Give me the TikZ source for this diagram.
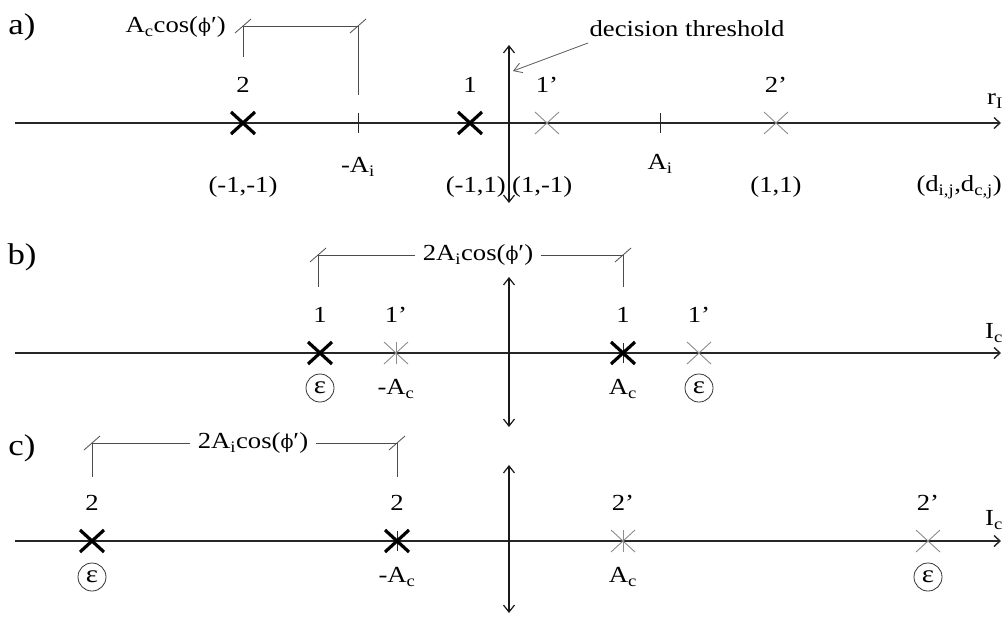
\documentclass[tikz,border=0pt]{standalone}
\usepackage{fontspec}
\setmainfont{Liberation Serif}[FakeStretch=1.16]
\newfontfamily\phifont{DejaVu Serif}
\usetikzlibrary{arrows.meta}
\newcommand{\sbs}[1]{\textsubscript{#1}}
\newcommand{\phip}{{\phifont\fontsize{19}{22}\selectfont ϕ}′}
\begin{document}
\begin{tikzpicture}[x=1pt,y=-1pt,
  every node/.style={font=\fontsize{23}{27}\selectfont, inner sep=0pt, text=black},
  panel/.style={font=\fontsize{30}{34}\selectfont},
  axis/.style={line width=1.4pt, draw=black!85, -{Straight Barb[length=6pt,width=11pt]}},
  vaxis/.style={line width=1.2pt, draw=black!90, {Straight Barb[length=7pt,width=11pt]}-{Straight Barb[length=7pt,width=11pt]}},
  brack/.style={line width=0.9pt, draw=black!70},
  thr/.style={line width=0.8pt, draw=black!65, -{Straight Barb[length=8pt,width=10pt]}},
  eps/.style={draw=black!80, line width=0.8pt, circle, minimum size=28pt, inner sep=0pt, font=\fontsize{25}{28}\selectfont},
  gap/.style={inner xsep=8pt},
  boldx/.pic={\draw[line width=3.2pt, black] (-12,-11)--(12,11) (-12,11)--(12,-11);},
  grayx/.pic={\draw[line width=0.9pt, black!45] (-12,-11)--(12,11) (-12,11)--(12,-11);},
  tickv/.pic={\draw[line width=1pt, black!85] (0,-10)--(0,10);},
  graytick/.pic={\draw[line width=0.9pt, black!45] (0,-11)--(0,11);},
  slash/.pic={\draw[line width=0.8pt, black!70] (-8,7)--(8,-7);}
]
\useasboundingbox (0,0) rectangle (1003,616);

% ================= panel a =================
\node[panel] (la) at (22,27) {a)};
\coordinate (aL) at (15,123);
\coordinate (aR) at (1001,123);
\draw[axis] (aL) -- (aR);
\coordinate (aT) at (509,45);
\coordinate (aB) at (509,203);
\draw[vaxis] (aB) -- (aT);

\pic at (358,123) {tickv};
\pic at (660,123) {tickv};
\pic at (243,123) {boldx};
\pic at (470,123) {boldx};
\pic at (547,123) {grayx};
\pic at (776,123) {grayx};

% bracket a
\coordinate (ba1) at (243,26);
\coordinate (ba2) at (358,26);
\coordinate (ba1d) at (243,57);
\coordinate (ba2d) at (358,95);
\draw[brack] (ba1d) -- (ba1) -- (ba2) -- (ba2d);
\pic at (ba1) {slash};
\pic at (ba2) {slash};
\node[anchor=east] (acos) at (226,27) {A\sbs{c}cos(\phip)};

\node (a2) at (243,85) {2};
\node (a1) at (470,85) {1};
\node (a1p) at (547,85) {1’};
\node (a2p) at (776,85) {2’};
\node (amAi) at (358,167) {-A\sbs{i}};
\node (aAi) at (660,164) {A\sbs{i}};
\node (amm) at (243,187) {(-1,-1)};
\node[anchor=east] (amp) at (506,187) {(-1,1)};
\node[anchor=west] (apm) at (512,187) {(1,-1)};
\node (app) at (776,187) {(1,1)};
\node[anchor=east] (dij) at (1002,187) {(d\sbs{i,j},d\sbs{c,j})};
\node[anchor=east] (rI) at (1003,101) {r\sbs{I}};

\node (dt) at (687,29) {decision threshold};
\coordinate (dts) at (588,43);
\coordinate (dte) at (513,71);
\draw[thr] (dts) -- (dte);

% ================= panel b =================
\node[panel] (lb) at (22,257) {b)};
\coordinate (bL) at (15,353);
\coordinate (bR) at (1001,353);
\draw[axis] (bL) -- (bR);
\coordinate (bT) at (509,277);
\coordinate (bB) at (509,427);
\draw[vaxis] (bB) -- (bT);

\pic at (396,353) {graytick};
\pic at (623,353) {tickv};
\pic at (320,353) {boldx};
\pic at (396,353) {grayx};
\pic at (623,353) {boldx};
\pic at (699,353) {grayx};

\node[gap] (bt) at (478,255) {2A\sbs{i}cos(\phip)};
\coordinate (bb1) at (318,255);
\coordinate (bb2) at (623,255);
\coordinate (bb1d) at (318,287);
\coordinate (bb2d) at (623,287);
\draw[brack] (bb1d) -- (bb1) -- (bt.west);
\draw[brack] (bt.east) -- (bb2) -- (bb2d);
\pic at (bb1) {slash};
\pic at (bb2) {slash};

\node (b1) at (320,315) {1};
\node (b1p) at (396,315) {1’};
\node (b1r) at (623,315) {1};
\node (b1pr) at (699,315) {1’};
\node[eps] (be1) at (320,388) {ε};
\node (bmAc) at (396,389) {-A\sbs{c}};
\node (bAc) at (623,389) {A\sbs{c}};
\node[eps] (be2) at (699,388) {ε};
\node[anchor=east] (bIc) at (1003,333) {I\sbs{c}};

% ================= panel c =================
\node[panel] (lc) at (22,448) {c)};
\coordinate (cL) at (15,541);
\coordinate (cR) at (1001,541);
\draw[axis] (cL) -- (cR);
\coordinate (cT) at (509,465);
\coordinate (cB) at (509,613);
\draw[vaxis] (cB) -- (cT);

\pic at (397,541) {tickv};
\pic at (623,541) {graytick};
\pic at (92,541) {boldx};
\pic at (397,541) {boldx};
\pic at (623,541) {grayx};
\pic at (928,541) {grayx};

\node[gap] (ct) at (253,443) {2A\sbs{i}cos(\phip)};
\coordinate (cb1) at (92,443);
\coordinate (cb2) at (397,443);
\coordinate (cb1d) at (92,477);
\coordinate (cb2d) at (397,477);
\draw[brack] (cb1d) -- (cb1) -- (ct.west);
\draw[brack] (ct.east) -- (cb2) -- (cb2d);
\pic at (cb1) {slash};
\pic at (cb2) {slash};

\node (c2) at (92,503) {2};
\node (c2b) at (397,503) {2};
\node (c2p) at (623,503) {2’};
\node (c2pr) at (928,503) {2’};
\node[eps] (ce1) at (92,577) {ε};
\node (cmAc) at (397,577) {-A\sbs{c}};
\node (cAc) at (623,577) {A\sbs{c}};
\node[eps] (ce2) at (928,577) {ε};
\node[anchor=east] (cIc) at (1003,520) {I\sbs{c}};
\end{tikzpicture}
\end{document}
